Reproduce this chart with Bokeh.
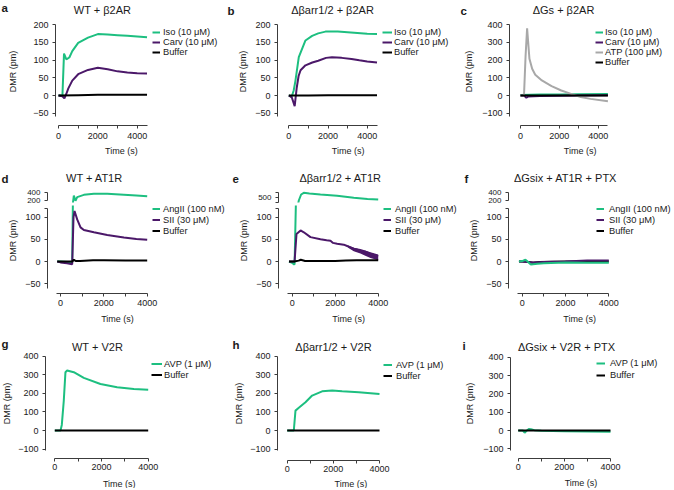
import math
from bokeh.plotting import figure
from bokeh.models import Range1d, FixedTicker, Legend, LegendItem
from bokeh.core.properties import value
from bokeh.layouts import column, row
from bokeh.embed import file_html
from bokeh.resources import INLINE

# ---------------- data ----------------
X_TICKS = [0, 1000, 2000, 3000, 4000]
X_TICK_LABELS = ["0", "", "2000", "", "4000"]
Y_TICKS_SMALL = [-50, 0, 50, 100, 150, 200]
Y_LABELS_SMALL = ["\u221250", "0", "50", "100", "150", "200"]
Y_TICKS_BIG = [-100, 0, 100, 200, 300, 400]
Y_LABELS_BIG = ["\u2212100", "0", "100", "200", "300", "400"]
Y_TICKS_LOW = [-50, 0, 50, 100, 120]
Y_LABELS_LOW = ["\u221250", "0", "50", "100", ""]
Y_TICKS_UP = [200, 400]
Y_LABELS_UP = ["200", "400"]
Y_TICKS_UP_E = [400, 500, 600]
Y_LABELS_UP_E = ["", "500", ""]

TITLES = ["WT + \u03b22AR", "\u0394\u03b2arr1/2 + \u03b22AR", "\u0394Gs + \u03b22AR",
          "WT + AT1R", "\u0394\u03b2arr1/2 + AT1R", "\u0394Gsix + AT1R + PTX",
          "WT + V2R", "\u0394\u03b2arr1/2 + V2R", "\u0394Gsix + V2R + PTX"]
LETTERS = ["a", "b", "c", "d", "e", "f", "g", "h", "i"]
X_LABEL = "Time (s)"
Y_LABEL = "DMR (pm)"

ISO = "Iso (10 \u03bcM)"
CARV = "Carv (10 \u03bcM)"
ATP = "ATP (100 \u03bcM)"
ANG = "AngII (100 nM)"
SII = "SII (30 \u03bcM)"
AVP = "AVP (1 \u03bcM)"
BUF = "Buffer"

# panel a
a_iso_t = [0, 200, 280, 400, 550, 700, 1000, 1500, 2000, 2500, 3000, 3500, 4000, 4500]
a_iso_v = [0, 0, 118, 102, 107, 125, 148, 163, 173, 172, 170, 168, 166, 164]
a_carv_t = [0, 200, 300, 400, 500, 700, 1000, 1500, 2000, 2500, 3000, 3500, 4000, 4500]
a_carv_v = [0, -2, -8, 5, 20, 42, 60, 72, 78, 74, 68, 65, 63, 62]
a_buf_t = [0, 1000, 2000, 3000, 4500]
a_buf_v = [0, 1, 2, 2, 2]
# panel b
b_iso_t = [0, 150, 250, 340, 510, 850, 1190, 1500, 1870, 2500, 3000, 3500, 4000, 4500]
b_iso_v = [0, -3, 14, 42, 108, 155, 168, 175, 180, 180, 178, 176, 174, 173]
b_carv_t = [0, 150, 300, 400, 500, 600, 850, 1200, 1500, 1900, 2200, 2700, 3200, 3600, 4000, 4500]
b_carv_v = [0, -5, -30, 20, 55, 71, 85, 93, 98, 106, 108, 106, 103, 99, 96, 93]
b_buf_t = [0, 1000, 2000, 3000, 4500]
b_buf_v = [0, 0, 1, 1, 1]
# panel c
c_iso_t = [0, 1000, 2000, 3000, 4500]
c_iso_v = [3, 5, 6, 7, 8]
c_carv_t = [0, 200, 300, 400, 1000, 2000, 3000, 4500]
c_carv_v = [0, -2, -13, -5, -3, -1, 0, 1]
c_atp_t = [0, 180, 260, 340, 460, 600, 760, 1100, 1600, 2100, 2600, 3100, 3600, 4500]
c_atp_v = [0, 0, 220, 378, 207, 151, 117, 85, 53, 28, 9, -9, -19, -32]
c_buf_t = [0, 1000, 2000, 3000, 4500]
c_buf_v = [0, 0, 0, 0, 0]
# panel d
d_ang_t = [-150, 0, 300, 540, 616, 693, 770, 1078, 1540, 2155, 2925, 3500, 4000]
d_ang_v = [0, 0, -1, -2, 320, 195, 280, 336, 360, 362, 340, 322, 305]
d_sii_t = [-150, 0, 300, 540, 600, 647, 770, 924, 1078, 1540, 2155, 2925, 3500, 4000]
d_sii_v = [0, -2, -4, -6, 100, 114, 95, 77, 71, 66, 60, 54, 51, 49]
d_buf_t = [-150, 540, 620, 700, 900, 1500, 2000, 3000, 4000]
d_buf_v = [0, 0, 4, 1, 1, 3, 3, 2, 2]
# panel e
e_ang_t = [-150, 0, 110, 307, 415, 539, 800, 1314, 2089, 2864, 3500, 4000]
e_ang_v = [0, -3, -7, 434, 554, 588, 575, 554, 528, 488, 465, 452]
e_sii_t = [-150, 0, 110, 200, 390, 540, 850, 1314, 1600, 1780, 1900, 2089, 2400, 2554, 2864, 3000, 3174, 3400, 3640, 4000]
e_sii_v = [0, 0, 0, 62, 70, 66, 55, 50, 48, 47, 42, 40, 38, 35, 29, 27, 24, 22, 17, 12]
e_sii_band_t = [2600, 2864, 3174, 3400, 3640, 4000]
e_sii_band_lo = [31, 23, 18, 13, 8, 3]
e_sii_band_hi = [36, 31, 28, 25, 21, 16]
e_buf_t = [-150, 100, 300, 400, 600, 1000, 2000, 2500, 3000, 4000]
e_buf_v = [0, 0, 2, 4, 1, 1, 1, 2, 3, 3]
# panel f
f_ang_t = [-150, 0, 150, 250, 400, 500, 700, 1000, 2000, 3000, 4000]
f_ang_v = [0, 1, 4, 0, -7, -6, -5, -4, -2, -3, -3]
f_sii_t = [-150, 0, 500, 1000, 2000, 3000, 4000]
f_sii_v = [0, 0, -2, -1, 0, 2, 2]
f_buf_t = [-150, 0, 300, 500, 800, 2000, 4000]
f_buf_v = [0, 0, -1, -3, -1, 0, 0]
# panel g
g_avp_t = [0, 244, 300, 385, 456, 528, 813, 1242, 1955, 2669, 3383, 4000]
g_avp_v = [0, 0, 30, 161, 314, 323, 314, 283, 250, 233, 224, 220]
g_buf_t = [0, 4000]
g_buf_v = [0, 0]
# panel h
h_avp_t = [0, 286, 359, 503, 792, 1081, 1514, 1948, 2381, 3102, 4000]
h_avp_v = [0, 0, 107, 122, 152, 188, 211, 215, 211, 206, 196]
h_buf_t = [0, 4000]
h_buf_v = [0, 0]
# panel i
i_avp_t = [0, 200, 280, 350, 460, 550, 700, 1000, 2000, 3000, 4000]
i_avp_v = [0, 0, -12, -3, 8, 7, 2, -2, -4, -6, -7]
i_buf_t = [0, 4000]
i_buf_v = [0, 0]

# ---------------- styling ----------------
FONT = "Liberation Sans"
GREEN = "#1dbf80"
PURPLE = "#4b1869"
GRAY = "#a8a8a8"
BLACK = "#000000"
AXC = "#3c3c3c"
TXT = "#1a1a1a"
TICK_FS = "9px"
AXLAB_FS = "9px"
TITLE_FS = "11px"
LETTER_FS = "11.5px"
LEG_FS = "9.3px"


def base_fig(w, h, xr, yr, **kw):
    p = figure(width=w, height=h, x_range=xr, y_range=yr, toolbar_location=None,
               output_backend="svg", tools="", title=None, **kw)
    p.outline_line_color = None
    p.grid.visible = False
    p.background_fill_color = None
    p.border_fill_color = None
    return p


def make_fig(cell, yaxis_x, xaxis_y, xcal, ycal, frame_bottom=None):
    cx0, cx1, cy0, cy1 = cell
    ox = round(cx0); oy = round(cy0)
    w = round(cx1) - ox; h = round(cy1) - oy
    L = round(yaxis_x) - ox
    if xaxis_y is not None:
        B = round(xaxis_y) - oy
    elif frame_bottom is not None:
        B = round(frame_bottom) - oy
    else:
        B = h
    (xa, pa), (xb, pb) = xcal
    la, lb = pa - ox, pb - ox
    kx = (lb - la) / (xb - xa)
    x0 = xa - (la - L) / kx
    x1 = x0 + (w - L) / kx
    (va, qa), (vb, qb) = ycal
    ma, mb = qa - oy, qb - oy
    ky = (ma - mb) / (vb - va)
    y0 = va - (B - ma) / ky
    y1 = y0 + B / ky
    p = base_fig(w, h, Range1d(x0, x1), Range1d(y0, y1),
                 min_border_left=L, min_border_right=0, min_border_top=0,
                 min_border_bottom=h - B,
                 x_axis_location="below" if xaxis_y is not None else None)
    g = dict(ox=ox, oy=oy, L=L, B=B, kx=kx, ky=ky, x0=x0, y0=y0)
    return p, g


def strip(x0, x1, y0, y1):
    ox, oy = round(x0), round(y0)
    w = round(x1) - ox; h = round(y1) - oy
    p = base_fig(w, h, Range1d(0, w), Range1d(h, 0), min_border=0,
                 x_axis_location=None, y_axis_location=None)
    return p, (ox, oy)


def style_axis(ax, ticks, labels, bounds, standoff=4, fs=TICK_FS):
    ax.ticker = FixedTicker(ticks=ticks)
    ax.major_label_overrides = {t: l for t, l in zip(ticks, labels)}
    ax.bounds = bounds
    ax.axis_line_color = AXC
    ax.axis_line_width = 1
    ax.major_tick_line_color = AXC
    ax.major_tick_out = 3
    ax.major_tick_in = 0
    ax.minor_tick_line_color = None
    ax.major_label_text_font = FONT
    ax.major_label_text_font_size = fs
    ax.major_label_text_color = TXT
    ax.major_label_standoff = standoff


def label(p, x, y, text, size, align="center", baseline="middle", bold=False, angle=0.0):
    p.text(x=[x], y=[y], text=[text], text_font=value(FONT), text_font_size=value(size),
           text_align=align, text_baseline=baseline, angle=angle,
           text_font_style="bold" if bold else "normal", text_color=TXT)


def ftxt(p, g, text, xr, yr, size, **kw):
    lx = round(xr - g["ox"]); ly = round(yr - g["oy"])
    x = g["x0"] + (lx - g["L"]) / g["kx"]
    y = g["y0"] + (g["B"] - ly) / g["ky"]
    label(p, x, y, text, size, **kw)


def stxt(p, o, text, xr, yr, size, **kw):
    label(p, round(xr - o[0]), round(yr - o[1]), text, size, **kw)


def draw(p, series, order=None, only=None):
    rs = {}
    idx = order if order is not None else list(range(len(series)))
    for k in idx:
        if only is not None and k not in only:
            continue
        lab, t, v, color = series[k]
        rs[k] = p.line(t, v, line_color=color, line_width=2)
    return [(series[k][0], rs[k]) for k in range(len(series)) if k in rs]


def add_legend(p, g, items, lx0, lx1, xt, rows, rh):
    n = len(items)
    gw = max(1, round(lx1 - lx0))
    ls = max(0, round(xt - lx1))
    top = rows[0] - g["oy"] - rh / 2
    bottom = round(top + n * rh)
    vx = round(lx0 - g["ox"] - g["L"])
    vy = g["B"] - bottom
    leg = Legend(items=[LegendItem(label=t, renderers=[r]) for t, r in items],
                 location=(vx, vy), orientation="vertical",
                 glyph_width=gw, glyph_height=rh, label_height=rh, label_standoff=ls,
                 spacing=0, padding=0, margin=0, border_line_color=None,
                 background_fill_alpha=0, label_text_font=FONT,
                 label_text_font_size=LEG_FS, label_text_color=TXT)
    p.add_layout(leg)


def side_strips(k, cell, sxb, yb, letter_xy, ylab_xy, xlab_xy):
    x0, x1, y0, y1 = cell
    ls_p, lo = strip(x0, sxb, y0, y1)
    stxt(ls_p, lo, LETTERS[k], letter_xy[0], letter_xy[1], LETTER_FS, align="left",
         baseline="alphabetic", bold=True)
    stxt(ls_p, lo, Y_LABEL, ylab_xy[0], ylab_xy[1], AXLAB_FS, angle=math.pi / 2)
    bs_p, bo = strip(sxb, x1, yb, y1)
    stxt(bs_p, bo, X_LABEL, xlab_xy[0], xlab_xy[1], AXLAB_FS)
    return ls_p, bs_p


def simple_panel(k, cell, sxb, yb, yx, xy, xcal, ycal, xb, yb_, yt, yl, series,
                 title_xy, letter_xy, ylab_xy, xlab_xy, leg, xso=4, order=None):
    x0, x1, y0, y1 = cell
    p, g = make_fig((sxb, x1, y0, yb), yx, xy, xcal, ycal)
    style_axis(p.xaxis[0], X_TICKS, X_TICK_LABELS, xb, standoff=xso)
    style_axis(p.yaxis[0], yt, yl, yb_)
    items = draw(p, series, order)
    ftxt(p, g, TITLES[k], title_xy[0], title_xy[1], TITLE_FS)
    add_legend(p, g, items, *leg)
    ls_p, bs_p = side_strips(k, cell, sxb, yb, letter_xy, ylab_xy, xlab_xy)
    return row(ls_p, column(p, bs_p))


def broken_panel(k, cell, sxb, yb, yx, xcal, up_ycal, up_b, up_t, up_l, series,
                 title_xy, letter_xy, ylab_xy, xlab_xy, leg, order=None, band=None):
    x0, x1, y0, y1 = cell
    split = 205
    pu, gu = make_fig((sxb, x1, y0, split), yx, None, xcal, up_ycal, frame_bottom=202)
    style_axis(pu.yaxis[0], up_t, up_l, up_b, fs="8px")
    draw(pu, series, order, only=[0])
    ftxt(pu, gu, TITLES[k], title_xy[0], title_xy[1], TITLE_FS)
    pl, gl = make_fig((sxb, x1, split, yb), yx, 292.7, xcal, ((0, 261), (100, 216.7)))
    style_axis(pl.xaxis[0], X_TICKS, X_TICK_LABELS, (-200, 4000), standoff=3)
    style_axis(pl.yaxis[0], Y_TICKS_LOW, Y_LABELS_LOW, (-60, 120))
    if band is not None:
        bt, blo, bhi, bcol = band
        pl.varea(x=bt, y1=blo, y2=bhi, fill_color=bcol, fill_alpha=1.0)
    items = draw(pl, series, order)
    add_legend(pl, gl, items, *leg)
    ls_p, bs_p = side_strips(k, cell, sxb, yb, letter_xy, ylab_xy, xlab_xy)
    return row(ls_p, column(pu, pl, bs_p))


pa = simple_panel(0, (0, 224, 0, 160), 24, 143, 55, 125, ((0, 58), (4000, 136.7)), ((0, 95), (200, 24)),
                  (0, 4500), (-60, 200), Y_TICKS_SMALL, Y_LABELS_SMALL,
                  [(ISO, a_iso_t, a_iso_v, GREEN), (CARV, a_carv_t, a_carv_v, PURPLE),
                   (BUF, a_buf_t, a_buf_v, BLACK)],
                  (101.7, 9), (1, 7), (11.5, 71), (102, 150),
                  (152, 160, 163, [31.7, 42.3, 53], 10))
pb = simple_panel(1, (224, 454, 0, 160), 251, 143, 276.7, 125, ((0, 288.3), (4000, 366.7)), ((0, 95), (200, 24)),
                  (0, 4500), (-60, 200), Y_TICKS_SMALL, Y_LABELS_SMALL,
                  [(ISO, b_iso_t, b_iso_v, GREEN), (CARV, b_carv_t, b_carv_v, PURPLE),
                   (BUF, b_buf_t, b_buf_v, BLACK)],
                  (331.7, 9), (227, 9.5), (242.5, 71), (332, 150),
                  (381.7, 391.7, 394, [31.7, 41.7, 51.7], 10))
pc = simple_panel(2, (454, 672, 0, 160), 478, 143, 509.3, 125, ((0, 520), (4000, 597.7)), ((0, 95), (400, 24)),
                  (0, 4500), (-120, 400), Y_TICKS_BIG, Y_LABELS_BIG,
                  [(ISO, c_iso_t, c_iso_v, GREEN), (CARV, c_carv_t, c_carv_v, PURPLE),
                   (ATP, c_atp_t, c_atp_v, GRAY), (BUF, c_buf_t, c_buf_v, BLACK)],
                  (563.3, 9), (460, 9.5), (468.3, 71), (562, 150),
                  (595, 603.3, 605.7, [31.7, 42, 52.3, 62.7], 10))

pd = broken_panel(3, (0, 229, 160, 328), 21, 310, 46.7, ((0, 60), (4000, 146.7)), ((200, 200), (400, 191.7)),
                  (200, 400), Y_TICKS_UP, Y_LABELS_UP,
                  [(ANG, d_ang_t, d_ang_v, GREEN), (SII, d_sii_t, d_sii_v, PURPLE),
                   (BUF, d_buf_t, d_buf_v, BLACK)],
                  (94, 176.7), (1, 178.3), (11.7, 240), (101, 318),
                  (151.7, 160, 163.3, [208.8, 219.6, 230.4], 11))
pe = broken_panel(4, (229, 462, 160, 328), 252, 310, 277.7, ((0, 291.7), (4000, 377.7)), ((500, 196.7), (600, 191.7)),
                  (400, 600), Y_TICKS_UP_E, Y_LABELS_UP_E,
                  [(ANG, e_ang_t, e_ang_v, GREEN), (SII, e_sii_t, e_sii_v, PURPLE),
                   (BUF, e_buf_t, e_buf_v, BLACK)],
                  (340, 176.7), (231.7, 177.8), (242.5, 240), (332, 318),
                  (383.3, 391.7, 396, [208.8, 219.6, 230.4], 11),
                  band=(e_sii_band_t, e_sii_band_lo, e_sii_band_hi, PURPLE))
pf = broken_panel(5, (462, 672, 160, 328), 483, 310, 508.3, ((0, 521.7), (4000, 608.3)), ((200, 200), (400, 191.7)),
                  (200, 400), Y_TICKS_UP, Y_LABELS_UP,
                  [(ANG, f_ang_t, f_ang_v, GREEN), (SII, f_sii_t, f_sii_v, PURPLE),
                   (BUF, f_buf_t, f_buf_v, BLACK)],
                  (565, 176.7), (463.5, 177.8), (473.3, 240), (565, 318),
                  (595.7, 603.3, 608.5, [208.8, 219.6, 230.4], 11), order=[2, 1, 0])

pg = simple_panel(6, (0, 225, 328, 488), 15, 475, 45, 458.3, ((0, 54.3), (4000, 147.7)), ((0, 430), (400, 355.7)),
                  (0, 4000), (-110, 400), Y_TICKS_BIG, Y_LABELS_BIG,
                  [(AVP, g_avp_t, g_avp_v, GREEN), (BUF, g_buf_t, g_buf_v, BLACK)],
                  (96.7, 346), (1, 342.7), (5.5, 403), (101, 483),
                  (150.7, 161.7, 164, [363.3, 375], 11), xso=2)
ph = simple_panel(7, (225, 452, 328, 488), 247, 476, 276.7, 460, ((0, 286.7), (4000, 379)), ((0, 430), (400, 355.7)),
                  (0, 4000), (-110, 400), Y_TICKS_BIG, Y_LABELS_BIG,
                  [(AVP, h_avp_t, h_avp_v, GREEN), (BUF, h_buf_t, h_buf_v, BLACK)],
                  (333.3, 345.7), (231.7, 344.3), (238.3, 403), (333, 483),
                  (382.7, 391.7, 396, [364.3, 376], 11), xso=2)
pi_ = simple_panel(8, (452, 672, 328, 488), 479, 474, 510, 458.3, ((0, 517.7), (4000, 610)), ((0, 430), (400, 356.7)),
                   (0, 4000), (-110, 400), Y_TICKS_BIG, Y_LABELS_BIG,
                   [(AVP, i_avp_t, i_avp_v, GREEN), (BUF, i_buf_t, i_buf_v, BLACK)],
                   (565.7, 346), (461.5, 345), (469.3, 403), (563.3, 481.5),
                   (595.7, 605, 610, [363.3, 375.7], 12), xso=2)

layout = column(row(pa, pb, pc), row(pd, pe, pf), row(pg, ph, pi_))
open("out.html", "w").write(file_html(layout, INLINE))
